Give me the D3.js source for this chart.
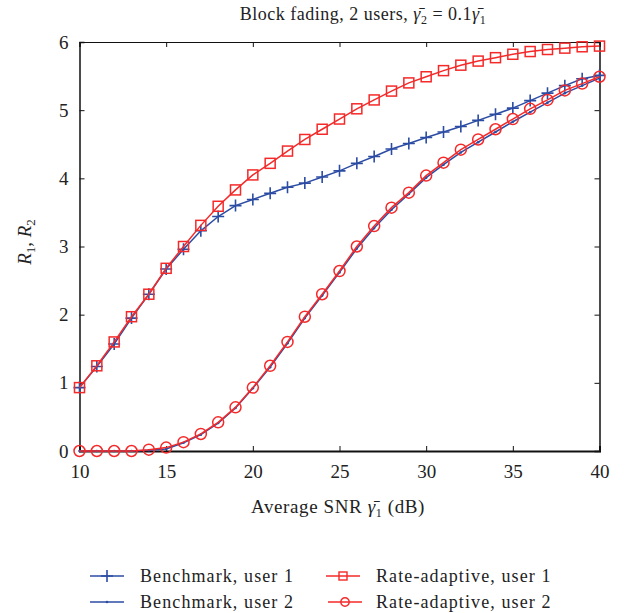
<!DOCTYPE html>
<html>
<head>
<meta charset="utf-8">
<script src="https://cdn.jsdelivr.net/npm/d3@7"></script>
<style>
  body { margin: 0; background: #fff; }
  text { font-family: "Liberation Serif", "Times New Roman", serif; fill: #222; }
</style>
</head>
<body>
<svg id="chart" width="629" height="613"></svg>
<script>
// data
var snr = d3.range(10, 41);
var bench1 = [0.93,1.24,1.57,1.95,2.30,2.67,2.96,3.23,3.44,3.60,3.69,3.78,3.87,3.93,4.02,4.11,4.22,4.32,4.43,4.51,4.60,4.68,4.76,4.85,4.94,5.03,5.14,5.25,5.36,5.46,5.51];
var bench2 = [0,0,0,0,0.01,0.03,0.12,0.24,0.41,0.63,0.92,1.23,1.58,1.95,2.28,2.62,2.97,3.27,3.54,3.77,4.01,4.20,4.38,4.53,4.68,4.83,4.97,5.11,5.25,5.36,5.47];
var rate1 = [0.93,1.25,1.60,1.97,2.30,2.68,3.00,3.31,3.59,3.83,4.05,4.22,4.40,4.57,4.72,4.87,5.02,5.15,5.28,5.40,5.49,5.58,5.66,5.72,5.77,5.82,5.86,5.89,5.91,5.93,5.94];
var rate2 = [0,0,0,0,0.02,0.05,0.13,0.25,0.42,0.64,0.93,1.25,1.60,1.97,2.30,2.64,3.00,3.30,3.57,3.79,4.04,4.23,4.42,4.57,4.72,4.87,5.02,5.15,5.29,5.39,5.49];
var xTicks = [10, 15, 20, 25, 30, 35, 40];
var yTicks = [0, 1, 2, 3, 4, 5, 6];

var blue = "#2c4ca4", red = "#f42a2a";

var svg = d3.select("#chart");
var plotLeft = 79.5, plotRight = 599.5, plotTop = 42, plotBottom = 451;

var x = d3.scaleLinear().domain([10, 40]).range([plotLeft, plotRight]);
var y = d3.scaleLinear().domain([0, 6]).range([plotBottom, plotTop]);

// axes, ticks inward on all sides
svg.append("g")
    .attr("transform", "translate(0," + plotBottom + ")")
    .call(d3.axisBottom(x).tickValues(xTicks).tickSize(-5).tickPadding(14).tickFormat(d3.format("d")))
    .call(function(g) { g.select(".domain").attr("stroke-width", 2); });
svg.append("g")
    .attr("transform", "translate(0," + plotTop + ")")
    .call(d3.axisTop(x).tickValues(xTicks).tickSize(-5).tickFormat(""));
svg.append("g")
    .attr("transform", "translate(" + plotLeft + ",0)")
    .call(d3.axisLeft(y).tickValues(yTicks).tickSize(-5).tickPadding(11).tickFormat(d3.format("d")))
    .call(function(g) { g.select(".domain").attr("stroke-width", 1.5); });
svg.append("g")
    .attr("transform", "translate(" + plotRight + ",0)")
    .call(d3.axisRight(y).tickValues(yTicks).tickSize(-5).tickFormat(""))
    .call(function(g) { g.select(".domain").attr("stroke-width", 1.5); });

svg.selectAll(".tick text")
    .style("font-family", "Liberation Serif")
    .style("font-size", "19px")
    .attr("fill", "#222");
svg.selectAll(".domain, .tick line").attr("stroke", "#111");

var line = d3.line()
    .x(function(d) { return x(d[0]); })
    .y(function(d) { return y(d[1]); });

function pairs(vals) { return snr.map(function(s, i) { return [s, vals[i]]; }); }

var series = [
  {name: "Benchmark, user 2", vals: bench2, color: blue, marker: "dot"},
  {name: "Benchmark, user 1", vals: bench1, color: blue, marker: "plus"},
  {name: "Rate-adaptive, user 2", vals: rate2, color: red, marker: "circle"},
  {name: "Rate-adaptive, user 1", vals: rate1, color: red, marker: "square"}
];

function drawMarker(g, type, color) {
  if (type == "plus") {
    g.append("path").attr("d", "M-6,0H6M0,-6V6")
        .attr("stroke", color).attr("stroke-width", 1.6);
  } else if (type == "square") {
    g.append("rect").attr("x", -5).attr("y", -5).attr("width", 10).attr("height", 10)
        .attr("fill", "none").attr("stroke", color).attr("stroke-width", 1.5);
  } else if (type == "circle") {
    g.append("circle").attr("r", 5.5)
        .attr("fill", "none").attr("stroke", color).attr("stroke-width", 1.5);
  } else {
    g.append("circle").attr("r", 1.3).attr("fill", color);
  }
}

series.forEach(function(s) {
  var g = svg.append("g");
  g.append("path")
      .datum(pairs(s.vals))
      .attr("fill", "none")
      .attr("stroke", s.color)
      .attr("stroke-width", 1.5)
      .attr("d", line);
  g.selectAll(".m")
      .data(pairs(s.vals))
      .enter().append("g")
      .attr("transform", function(d) { return "translate(" + x(d[0]) + "," + y(d[1]) + ")"; })
      .each(function() { drawMarker(d3.select(this), s.marker, s.color); });
});

// title
var title = svg.append("text")
    .attr("x", 363).attr("y", 20)
    .attr("text-anchor", "middle")
    .style("font-size", "18px")
    .style("letter-spacing", "0.5px");
title.append("tspan").text("Block fading, 2 users, ");
title.append("tspan").style("font-style", "italic").text("γ\u0304");
title.append("tspan").attr("dy", 4).style("font-size", "12px").text("2");
title.append("tspan").attr("dy", -4).text(" = 0.1");
title.append("tspan").style("font-style", "italic").text("γ\u0304");
title.append("tspan").attr("dy", 4).style("font-size", "12px").text("1");

// x label
var xl = svg.append("text")
    .attr("x", 338).attr("y", 513)
    .attr("text-anchor", "middle")
    .style("font-size", "19px")
    .style("letter-spacing", "0.6px");
xl.append("tspan").text("Average SNR ");
xl.append("tspan").style("font-style", "italic").text("γ\u0304");
xl.append("tspan").attr("dy", 4).style("font-size", "12px").text("1");
xl.append("tspan").attr("dy", -4).text(" (dB)");

// y label
var yl = svg.append("text")
    .attr("transform", "translate(31,242) rotate(-90)")
    .attr("text-anchor", "middle")
    .style("font-size", "19px");
yl.append("tspan").style("font-style", "italic").text("R");
yl.append("tspan").attr("dy", 4).style("font-size", "13px").text("1");
yl.append("tspan").attr("dy", -4).text(", ");
yl.append("tspan").style("font-style", "italic").text("R");
yl.append("tspan").attr("dy", 4).style("font-size", "13px").text("2");

// legend
var legendItems = [
  {name: "Benchmark, user 1", color: blue, marker: "plus", lx: 90, ly: 576},
  {name: "Benchmark, user 2", color: blue, marker: "dot", lx: 90, ly: 602},
  {name: "Rate-adaptive, user 1", color: red, marker: "square", lx: 326, ly: 576},
  {name: "Rate-adaptive, user 2", color: red, marker: "circle", lx: 328, ly: 602}
];
var legend = svg.append("g").selectAll("g")
    .data(legendItems)
    .enter().append("g")
    .attr("transform", function(d) { return "translate(" + d.lx + "," + d.ly + ")"; });
legend.append("line")
    .attr("x1", 0).attr("x2", 34)
    .attr("stroke", function(d) { return d.color; })
    .attr("stroke-width", 1.5);
legend.each(function(d) {
  var m = d3.select(this).append("g").attr("transform", "translate(17,0)");
  if (d.marker == "square") {
    m.append("rect").attr("x", -4).attr("y", -4).attr("width", 8).attr("height", 8)
        .attr("fill", "none").attr("stroke", d.color).attr("stroke-width", 1.4);
  } else if (d.marker == "circle") {
    m.append("circle").attr("r", 4.2)
        .attr("fill", "none").attr("stroke", d.color).attr("stroke-width", 1.4);
  } else {
    drawMarker(m, d.marker, d.color);
  }
});
legend.append("text")
    .attr("x", function(d) { return d.marker == "circle" ? 48 : 50; })
    .attr("y", 6)
    .style("font-size", "18px")
    .style("letter-spacing", "1.1px")
    .text(function(d) { return d.name; });
</script>
</body>
</html>
